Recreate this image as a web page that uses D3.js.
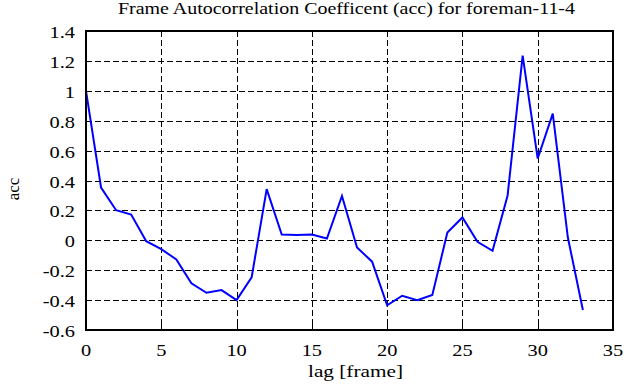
<!DOCTYPE html>
<html>
<head>
<meta charset="utf-8">
<script src="https://cdn.jsdelivr.net/npm/d3@7"></script>
<style>
  body { margin: 0; background: #fff; }
  text { font-family: "Liberation Serif", "Times New Roman", serif; fill: #000; font-size: 17px; }
</style>
</head>
<body>
<script>
// acc values, lag 0..33
let lags = d3.range(0, 34);
let acc = [1.0, 0.353, 0.201, 0.172, -0.006, -0.059, -0.128, -0.288, -0.351, -0.333,
           -0.400, -0.248, 0.342, 0.039, 0.035, 0.039, 0.012, 0.297, -0.048, -0.143,
           -0.435, -0.371, -0.400, -0.366, 0.052, 0.153, -0.010, -0.070, 0.300, 1.235,
           0.547, 0.847, 0.020, -0.466];
let xTicks = [0, 5, 10, 15, 20, 25, 30, 35];
let yTicks = [-0.6, -0.4, -0.2, 0, 0.2, 0.4, 0.6, 0.8, 1, 1.2, 1.4];

window.onload = drawChart();

function drawChart(){
    let width = 635, height = 387;
    let margin = {left: 86, right: 22, top: 31, bottom: 57};

    let svg = d3.select("body").append("svg")
        .attr("width", width)
        .attr("height", height);

    let x = d3.scaleLinear().domain([0, 35]).range([margin.left, width - margin.right]);
    let y = d3.scaleLinear().domain([-0.6, 1.4]).range([height - margin.bottom, margin.top]);

    // dashed grid
    let grid = svg.append("g").attr("class", "grid")
        .attr("stroke", "#000").attr("stroke-width", 1).attr("stroke-dasharray", "6,3");
    grid.selectAll(".gx").data(xTicks.slice(1, -1)).enter().append("line")
        .attr("x1", d => Math.round(x(d)) + 0.5).attr("x2", d => Math.round(x(d)) + 0.5)
        .attr("y1", y(1.4)).attr("y2", y(-0.6));
    grid.selectAll(".gy").data(yTicks.slice(1, -1)).enter().append("line")
        .attr("y1", d => Math.round(y(d)) + 0.5).attr("y2", d => Math.round(y(d)) + 0.5)
        .attr("x1", x(0)).attr("x2", x(35));

    // inward ticks on all four sides
    let tickLen = 6;
    let ticks = svg.append("g").attr("stroke", "#000").attr("stroke-width", 1);
    xTicks.forEach(function(d){
        let px = Math.round(x(d)) + 0.5;
        ticks.append("line").attr("x1", px).attr("x2", px).attr("y1", y(-0.6)).attr("y2", y(-0.6) - tickLen);
        ticks.append("line").attr("x1", px).attr("x2", px).attr("y1", y(1.4)).attr("y2", y(1.4) + tickLen);
    });
    yTicks.forEach(function(d){
        let py = Math.round(y(d)) + 0.5;
        ticks.append("line").attr("y1", py).attr("y2", py).attr("x1", x(0)).attr("x2", x(0) + tickLen);
        ticks.append("line").attr("y1", py).attr("y2", py).attr("x1", x(35)).attr("x2", x(35) - tickLen);
    });

    // data line
    let line = d3.line()
        .x((d, i) => x(lags[i]))
        .y(d => y(d));
    svg.append("path")
        .datum(acc)
        .attr("fill", "none")
        .attr("stroke", "#0000ff")
        .attr("stroke-width", 2)
        .attr("d", line);

    // frame
    svg.append("rect")
        .attr("x", x(0)).attr("y", y(1.4))
        .attr("width", x(35) - x(0)).attr("height", y(-0.6) - y(1.4))
        .attr("fill", "none").attr("stroke", "#000").attr("stroke-width", 2);

    // tick labels, stretched a bit wider like the original bitmap font
    svg.selectAll(".xl").data(xTicks).enter().append("text")
        .attr("transform", d => "translate(" + x(d) + "," + (y(-0.6) + 26) + ") scale(1.2,1)")
        .attr("text-anchor", "middle")
        .text(d => d);
    svg.selectAll(".yl").data(yTicks).enter().append("text")
        .attr("transform", d => "translate(" + (x(0) - 11) + "," + (y(d) + 7) + ") scale(1.2,1)")
        .attr("text-anchor", "end")
        .text(d => d3.format("~g")(d).replace("−", "-"));

    // titles
    svg.append("text")
        .attr("x", 118).attr("y", 14)
        .attr("textLength", 457).attr("lengthAdjust", "spacingAndGlyphs")
        .text("Frame Autocorrelation Coefficent (acc) for foreman-11-4");
    svg.append("text")
        .attr("transform", "translate(" + ((x(0) + x(35)) / 2 + 6) + ",377) scale(1.25,1)")
        .attr("text-anchor", "middle")
        .text("lag [frame]");
    svg.append("text")
        .attr("transform", "translate(19,189) rotate(-90)")
        .attr("text-anchor", "middle")
        .text("acc");
}
</script>
</body>
</html>
